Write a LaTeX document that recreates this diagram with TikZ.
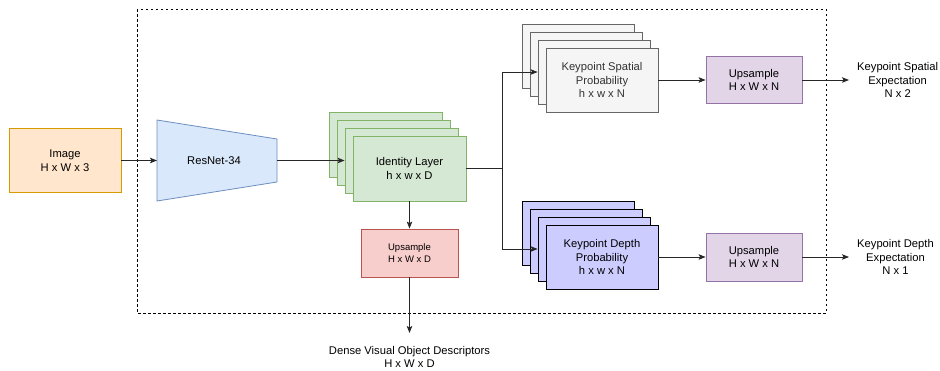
\documentclass[tikz,border=0pt]{standalone}
\usepackage{fontspec}
\setmainfont{Liberation Sans}
\usetikzlibrary{arrows.meta}

\definecolor{imgfill}{HTML}{FFE6CC}\definecolor{imgdraw}{HTML}{D79B00}
\definecolor{resfill}{HTML}{DAE8FC}\definecolor{resdraw}{HTML}{6C8EBF}
\definecolor{grnfill}{HTML}{D5E8D4}\definecolor{grndraw}{HTML}{82B366}
\definecolor{redfill}{HTML}{F8CECC}\definecolor{reddraw}{HTML}{B85450}
\definecolor{gryfill}{HTML}{F5F5F5}\definecolor{grydraw}{HTML}{666666}
\definecolor{grytext}{HTML}{333333}
\definecolor{blufill}{HTML}{CCCCFF}
\definecolor{purfill}{HTML}{E1D5E7}\definecolor{purdraw}{HTML}{9673A6}

\begin{document}
\begin{tikzpicture}[x=1pt,y=-1pt,
  txt/.style={align=center, inner sep=0pt, font=\fontsize{11.2}{13.5}\selectfont},
  box/.style={txt, draw, line width=0.8pt},
  smallbox/.style={box, font=\fontsize{9.5}{12}\selectfont},
  card/.style={box, minimum width=112pt, minimum height=64pt},
  conn/.style={line width=0.8pt, draw=black!85},
  arr/.style={conn, -{Stealth[length=7pt,width=5.5pt,inset=1.5pt]}},
  outtxt/.style={txt, inner xsep=8pt}
]
\useasboundingbox (0,0) rectangle (940,370);

% module boundary
\draw[line width=0.7pt, dash pattern=on 2.5pt off 2.5pt] (137,9) rectangle (826,313);

% input image
\node[box, fill=imgfill, draw=imgdraw, minimum width=112pt, minimum height=64pt]
  (img) at (65,160.5) {Image\\H x W x 3};

% backbone
\draw[line width=0.8pt, fill=resfill, draw=resdraw]
  (157,120) -- (277,139) -- (277,182) -- (157,201) -- cycle;
\node[txt] (res) at (214,160.5) {ResNet-34};
\coordinate (resin) at (157,160.5);
\coordinate (resout) at (277,160.5);

% identity layer stack
\foreach \i/\d in {1/0,2/8,3/16}
  \node[card, fill=grnfill, draw=grndraw, minimum width=113pt, minimum height=65pt]
    (green\i) at (385.5+\d,144.5+\d) {};
\node[card, fill=grnfill, draw=grndraw, minimum width=113pt, minimum height=65pt]
  (green) at (409.5,168.5) {Identity Layer\\h x w x D};

% dense descriptor head
\node[smallbox, fill=redfill, draw=reddraw, minimum width=97pt, minimum height=48pt]
  (red) at (409.5,253) {Upsample\\H x W x D};
\node[txt, anchor=north, inner ysep=13pt] (dense) at (409.5,333)
  {Dense Visual Object Descriptors\\H x W x D};

% spatial probability stack
\foreach \i/\d in {1/0,2/8,3/16}
  \node[card, fill=gryfill, draw=grydraw] (gray\i) at (578+\d,56+\d) {};
\node[card, fill=gryfill, draw=grydraw, text=grytext]
  (gray) at (602,80) {Keypoint Spatial\\Probability\\h x w x N};

% depth probability stack
\foreach \i/\d in {1/0,2/8,3/16}
  \node[card, fill=blufill, draw=black] (blue\i) at (578+\d,233+\d) {};
\node[card, fill=blufill, draw=black]
  (blue) at (602,257) {Keypoint Depth\\Probability\\h x w x N};

% upsampling of the probabilities
\node[box, fill=purfill, draw=purdraw, minimum width=96pt, minimum height=47pt]
  (pup1) at (754,80) {Upsample\\H x W x N};
\node[box, fill=purfill, draw=purdraw, minimum width=96pt, minimum height=48pt]
  (pup2) at (754,257) {Upsample\\H x W x N};

% outputs
\node[outtxt, anchor=west] (spat) at (849,80) {Keypoint Spatial\\Expectation\\N x 2};
\node[outtxt, anchor=west] (dep) at (849,257) {Keypoint Depth\\Expectation\\N x 1};

% connectors
\coordinate (br) at (502,168.5);
\draw[arr] (img.east) -- (resin);
\draw[arr] (resout) -- (green3.west |- resout);
\draw[conn] (green.east) -- (br);
\draw[arr] (br) |- (gray3.west);
\draw[arr] (br) |- (blue3.west);
\draw[arr] (green.south) -- (red.north);
\draw[arr] (red.south) -- (dense.north);
\draw[arr] (gray.east) -- (pup1.west);
\draw[arr] (blue.east) -- (pup2.west);
\draw[arr] (pup1.east) -- (spat.west);
\draw[arr] (pup2.east) -- (dep.west);
\end{tikzpicture}
\end{document}
